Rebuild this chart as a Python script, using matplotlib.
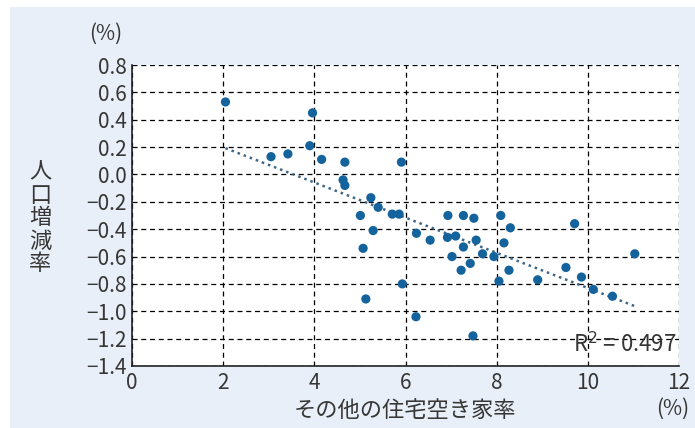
import matplotlib
matplotlib.use("Agg")
import matplotlib.pyplot as plt
from matplotlib.patches import Rectangle
import numpy as np

plt.rcParams['font.family'] = ['Noto Sans CJK JP', 'DejaVu Sans']

# その他の住宅空き家率 (%) / 人口増減率 (%)
vacancy = [2.05, 3.05, 3.42, 3.96, 3.90, 4.16, 4.67, 4.63, 4.67, 5.91,
           5.24, 5.40, 5.01, 5.71, 5.86, 5.29, 5.07, 5.13, 5.93, 6.24,
           6.23, 6.54, 6.93, 7.27, 7.50, 6.92, 7.10, 7.55, 7.27, 7.02,
           7.69, 7.94, 7.22, 7.42, 7.48, 8.09, 8.30, 8.16, 8.27, 8.05,
           8.90, 9.52, 9.71, 9.86, 10.12, 10.54, 11.03]
pop_change = [0.53, 0.13, 0.15, 0.45, 0.21, 0.11, 0.09, -0.04, -0.08, 0.09,
              -0.17, -0.24, -0.30, -0.29, -0.29, -0.41, -0.54, -0.91, -0.80, -0.43,
              -1.04, -0.48, -0.30, -0.30, -0.32, -0.46, -0.45, -0.48, -0.53, -0.60,
              -0.58, -0.60, -0.70, -0.65, -1.18, -0.30, -0.39, -0.50, -0.70, -0.78,
              -0.77, -0.68, -0.36, -0.75, -0.84, -0.89, -0.58]

xticks = [0, 2, 4, 6, 8, 10, 12]
yticks = [0.8, 0.6, 0.4, 0.2, 0.0, -0.2, -0.4, -0.6, -0.8, -1.0, -1.2, -1.4]

bg = '#e9eff8'
txt = '#363636'

fig = plt.figure(figsize=(6.95, 4.28), dpi=100, facecolor='white')
fig.patches.append(Rectangle((10 / 695, 0), 1, 1 - 7 / 428, transform=fig.transFigure,
                             facecolor=bg, edgecolor='none', zorder=-10))
ax = fig.add_axes([132 / 695, 1 - 366 / 428, (679 - 132) / 695, (366 - 65) / 428])
ax.set_facecolor('white')

x = np.array(vacancy)
y = np.array(pop_change)
k, b = np.polyfit(x, y, 1)
xs = np.array([x.min(), x.max()])
ax.plot(xs, k * xs + b, linestyle=(0, (1, 1.6)), color='#3d6585', lw=1.8, zorder=3)
ax.scatter(x, y, s=44, color='#14639c', edgecolors='none', zorder=4)

ax.set_xlim(0, 12)
ax.set_ylim(-1.4, 0.8)
ax.set_xticks(xticks)
ax.set_yticks(yticks)
ax.set_xticklabels([str(t) for t in xticks])
ax.set_yticklabels([f'{t:.1f}'.replace('-', '\u2212') for t in yticks])
ax.tick_params(length=0, labelsize=15, colors=txt, pad=4)
ax.grid(True, color='black', linestyle=(0, (4, 3)), lw=0.9)
for s in ['top', 'right']:
    ax.spines[s].set_visible(False)
for s in ['left', 'bottom']:
    ax.spines[s].set_color('#222222')
    ax.spines[s].set_linewidth(1.2)

ax.text(0.995, 0.03, 'R$^2$ = 0.497', transform=ax.transAxes, ha='right', va='bottom',
        fontsize=16, color=txt, zorder=5)

fig.text(106 / 695, 1 - 34 / 428, '(%)', ha='center', va='center', fontsize=15, color=txt)
fig.text(40 / 695, 1 - 218 / 428, '\n'.join('人口増減率'), ha='center', va='center',
         fontsize=16, color=txt, linespacing=1.0)
fig.text(405 / 695, 1 - 410 / 428, 'その他の住宅空き家率', ha='center', va='center',
         fontsize=16, color=txt)
fig.text(673 / 695, 1 - 409 / 428, '(%)', ha='center', va='center', fontsize=15, color=txt)

fig.savefig('out.png', dpi=100, facecolor=fig.get_facecolor())
